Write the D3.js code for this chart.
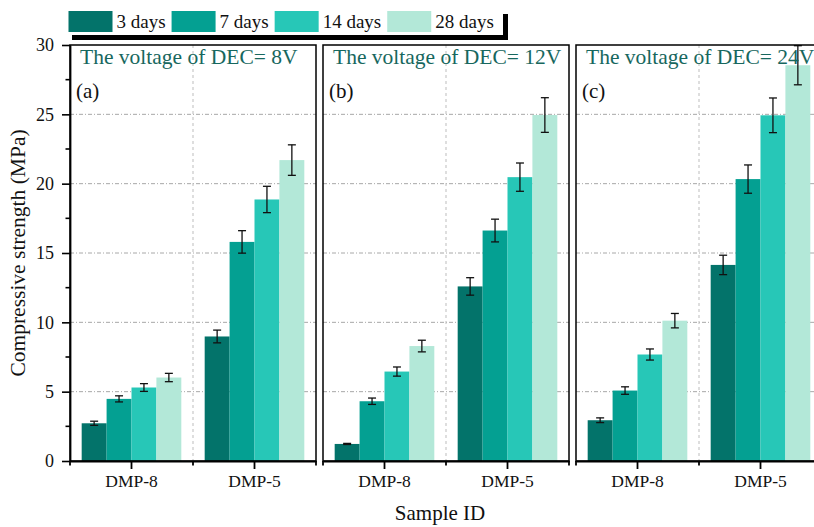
<!DOCTYPE html>
<html>
<head>
<meta charset="utf-8">
<script src="https://cdn.jsdelivr.net/npm/d3@7"></script>
<style>
  html, body { margin: 0; padding: 0; background: #fff; }
  svg { display: block; }
  svg text { font-family: "Liberation Serif", "Times New Roman", Times, "Tinos", "DejaVu Serif", "Noto Serif", serif; }
</style>
</head>
<body>
<svg id="chart" width="814" height="527"></svg>
<script>
// Curing ages (series) and sample groups (categories)
const series = ["3 days", "7 days", "14 days", "28 days"];
const categories = ["DMP-8", "DMP-5"];
const panelTitles = ["The voltage of DEC= 8V", "The voltage of DEC= 12V", "The voltage of DEC= 24V"];
const panelTags = ["(a)", "(b)", "(c)"];
const yTicks = [0, 5, 10, 15, 20, 25, 30];

// Compressive strength (MPa), one row per sample, one column per curing age
const strength8V  = [[2.72, 4.48, 5.30, 6.02], [8.98, 15.80, 18.86, 21.70]];
const strength12V = [[1.23, 4.31, 6.45, 8.29], [12.59, 16.62, 20.47, 24.95]];
const strength24V = [[2.94, 5.08, 7.68, 10.12], [14.14, 20.33, 24.93, 28.54]];
// Standard deviations
const error8V  = [[0.15, 0.22, 0.28, 0.30], [0.46, 0.81, 0.95, 1.10]];
const error12V = [[0.04, 0.23, 0.33, 0.42], [0.63, 0.82, 1.02, 1.25]];
const error24V = [[0.17, 0.27, 0.40, 0.52], [0.70, 1.02, 1.25, 1.41]];

const colors = ["#03736a", "#04a092", "#27c7b7", "#b3e8d8"];

const panels = [
  { values: strength8V,  errors: error8V },
  { values: strength12V, errors: error12V },
  { values: strength24V, errors: error24V }
];

const svg = d3.select("#chart");
const plotTop = 45, plotBottom = 461, panelW = 246, firstLeft = 70, panelStep = 253;

const y = d3.scaleLinear().domain([0, 30]).range([plotBottom, plotTop]);
const x0 = d3.scaleBand().domain(categories).range([0, panelW])
  .paddingInner(0.19).paddingOuter(0.095);
const x1 = d3.scaleBand().domain(series).range([0, x0.bandwidth()]);
const color = d3.scaleOrdinal().domain(series).range(colors);

panels.forEach((p, i) => {
  const left = firstLeft + i * panelStep;
  const g = svg.append("g").attr("transform", `translate(${left},0)`);

  // horizontal dash-dot grid
  g.selectAll(".hgrid").data(yTicks.filter(t => t > 0 && t < 30)).join("line")
    .attr("x1", 0).attr("x2", panelW)
    .attr("y1", d => y(d)).attr("y2", d => y(d))
    .attr("stroke", "#a8a8a8").attr("stroke-width", 1)
    .attr("stroke-dasharray", "4,2,1,2");
  // vertical dashed divider between the two samples
  g.append("line")
    .attr("x1", panelW / 2).attr("x2", panelW / 2)
    .attr("y1", plotTop).attr("y2", plotBottom)
    .attr("stroke", "#bdbdbd").attr("stroke-width", 1)
    .attr("stroke-dasharray", "3,3");

  const rows = categories.map((c, ci) => series.map((s, si) => ({
    cat: c, ser: s, v: p.values[ci][si], e: p.errors[ci][si]
  }))).flat();

  g.selectAll(".bar").data(rows).join("rect")
    .attr("x", d => x0(d.cat) + x1(d.ser))
    .attr("width", x1.bandwidth())
    .attr("y", d => y(d.v))
    .attr("height", d => y(0) - y(d.v))
    .attr("fill", d => color(d.ser));

  // error bars
  const eb = g.selectAll(".err").data(rows).join("g")
    .attr("transform", d => `translate(${x0(d.cat) + x1(d.ser) + x1.bandwidth() / 2},0)`);
  eb.append("line")
    .attr("y1", d => y(d.v + d.e)).attr("y2", d => y(d.v - d.e))
    .attr("stroke", "#111").attr("stroke-width", 1.3);
  eb.selectAll(".cap").data(d => [d.v + d.e, d.v - d.e]).join("line")
    .attr("x1", -4).attr("x2", 4)
    .attr("y1", d => y(d)).attr("y2", d => y(d))
    .attr("stroke", "#111").attr("stroke-width", 1.3);

  // frame
  g.append("rect")
    .attr("x", 0).attr("y", plotTop).attr("width", panelW).attr("height", plotBottom - plotTop)
    .attr("fill", "none").attr("stroke", "#000").attr("stroke-width", 1.5);

  // bottom axis: major ticks at samples, minor ticks at group edges
  const xAxis = g.append("g").attr("transform", `translate(0,${plotBottom})`)
    .call(d3.axisBottom(x0).tickSize(8).tickSizeOuter(0).tickPadding(6))
    .attr("font-family", null);
  xAxis.select(".domain").attr("stroke-width", 2.2);
  xAxis.selectAll(".tick line").attr("stroke-width", 1.8);
  xAxis.selectAll(".tick text").attr("font-size", "17.5px").attr("fill", "#111");
  xAxis.selectAll(".minor").data([0, panelW / 2, panelW]).join("line")
    .attr("x1", d => d).attr("x2", d => d).attr("y1", 0).attr("y2", 4.5)
    .attr("stroke", "#000").attr("stroke-width", 1.8);

  // panel titles
  g.append("text").attr("x", 10).attr("y", 64)
    .attr("font-size", "21.5px").attr("fill", "#17675e")
    .text(panelTitles[i]);
  g.append("text").attr("x", 6).attr("y", 98)
    .attr("font-size", "21px").attr("fill", "#111")
    .text(panelTags[i]);

  // left axis only on the first panel
  if (i === 0) {
    const yAxis = g.append("g")
      .call(d3.axisLeft(y).tickValues(yTicks).tickSize(8).tickSizeOuter(0).tickPadding(8))
      .attr("font-family", null);
    yAxis.select(".domain").attr("stroke-width", 1.8);
    yAxis.selectAll(".tick line").attr("stroke-width", 1.6);
    yAxis.selectAll(".tick text").attr("font-size", "18px").attr("fill", "#111");
    yAxis.selectAll(".minor").data(d3.range(2.5, 30, 5)).join("line")
      .attr("x1", -4.5).attr("x2", 0)
      .attr("y1", d => y(d)).attr("y2", d => y(d))
      .attr("stroke", "#000").attr("stroke-width", 1.6);
  }
});

// axis titles
svg.append("text")
  .attr("transform", `translate(25,${(plotTop + plotBottom) / 2}) rotate(-90)`)
  .attr("text-anchor", "middle").attr("font-size", "21.5px").attr("fill", "#111")
  .text("Compressive strength (MPa)");
svg.append("text")
  .attr("x", 440).attr("y", 520)
  .attr("text-anchor", "middle").attr("font-size", "21px").attr("fill", "#111")
  .text("Sample ID");

// legend with drop shadow
const legend = svg.append("g");
const legendBox = { x: 67, y: 9, w: 436, h: 26 };
legend.append("rect")
  .attr("x", legendBox.x + 5).attr("y", legendBox.y + 5)
  .attr("width", legendBox.w).attr("height", legendBox.h).attr("fill", "#000");
legend.append("rect")
  .attr("x", legendBox.x).attr("y", legendBox.y)
  .attr("width", legendBox.w).attr("height", legendBox.h).attr("fill", "#fff");
let lx = 68.5;
series.forEach((s, i) => {
  legend.append("rect").attr("x", lx).attr("y", 11).attr("width", 44).attr("height", 21)
    .attr("fill", color(s));
  const t = legend.append("text").attr("x", lx + 48).attr("y", 28)
    .attr("font-size", "19px").attr("fill", "#111").text(s);
  lx = lx + 48 + t.node().getComputedTextLength() + 6;
});
</script>
</body>
</html>
